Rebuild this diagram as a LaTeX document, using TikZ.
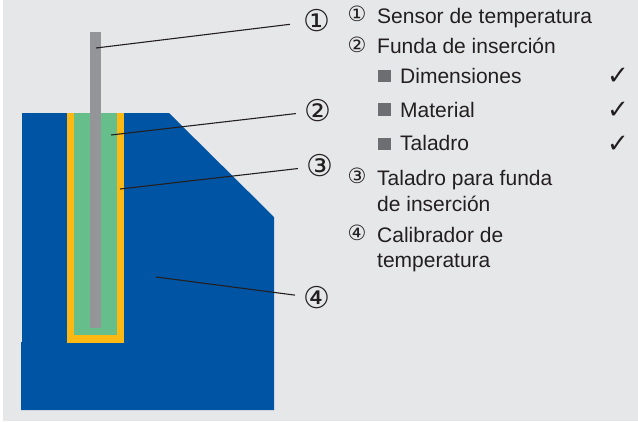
\documentclass[tikz,border=0pt]{standalone}
\usepackage{fontspec}
\setmainfont{Liberation Sans}
\newfontfamily\symfont{DejaVu Sans}
\definecolor{bgc}{HTML}{E6E7E9}
\definecolor{bluec}{HTML}{0054A4}
\definecolor{yellowc}{HTML}{FDB913}
\definecolor{greenc}{HTML}{66BF8B}
\definecolor{grayc}{HTML}{939598}
\definecolor{squarec}{HTML}{6D6E71}
\definecolor{inkc}{HTML}{231F20}
\tikzset{
  px/.style={x=1pt,y=-1pt},
  callout/.style={circle,minimum size=44pt,inner sep=0pt,font=\symfont\fontsize{30}{30}\selectfont,text=inkc},
  leader/.style={draw=inkc,line width=1.1pt},
  smallnum/.style={anchor=center,inner sep=0pt,font=\symfont\fontsize{21}{21}\selectfont,text=inkc},
  item/.style={anchor=base west,inner sep=0pt,font=\fontsize{21}{22}\selectfont,text=inkc},
  bullet/.style={fill=squarec,draw=none,minimum size=12.5pt,inner sep=0pt},
  tick/.style={anchor=center,inner sep=0pt,font=\symfont\fontsize{26}{26}\selectfont,text=inkc},
}
\begin{document}
\begin{tikzpicture}[px]
\useasboundingbox (0,0) rectangle (638,421);
\fill[white] (0,0) rectangle (638,421);
\fill[bgc] (3,0) rectangle (638,421);
\fill[bluec] (22,113) -- (169,113) -- (274,217) -- (274,410) -- (21,410) -- (21,342) -- (22,342) -- cycle;
\fill[yellowc] (67,113) rectangle (124,343);
\fill[greenc] (74,113) rectangle (117,335);
\fill[grayc] (90,32) rectangle (101,328);
\coordinate (p1) at (96,48);
\coordinate (p2) at (111,135);
\coordinate (p3) at (120,189);
\coordinate (p4) at (156,277);
\node[callout] (n1) at (317,21) {①};
\node[callout] (n2) at (318,111) {②};
\node[callout] (n3) at (320,166) {③};
\node[callout] (n4) at (317,298) {④};
\draw[leader,shorten >=5pt] (p1) -- (n1);
\draw[leader] (p2) -- (n2);
\draw[leader] (p3) -- (n3);
\draw[leader] (p4) -- (n4);
\node[smallnum] (s1) at (357,14) {①};
\node[smallnum] (s2) at (357,45) {②};
\node[smallnum] (s3) at (357,176) {③};
\node[smallnum] (s4) at (357,233) {④};
\node[item] (t1) at (377,23) {Sensor de temperatura};
\node[item] (t2) at (377,53) {Funda de inserción};
\node[item] (t3) at (400,83) {Dimensiones};
\node[item] (t4) at (400,117) {Material};
\node[item] (t5) at (400,150) {Taladro};
\node[item] (t6) at (377,185) {Taladro para funda};
\node[item] (t7) at (377,211) {de inserción};
\node[item] (t8) at (377,242) {Calibrador de};
\node[item] (t9) at (377,267) {temperatura};
\node[bullet] (b1) at (384.5,76) {};
\node[bullet] (b2) at (384.5,109.5) {};
\node[bullet] (b3) at (384.5,144) {};
\node[tick] (c1) at (618,76) {✓};
\node[tick] (c2) at (618,110) {✓};
\node[tick] (c3) at (618,144) {✓};
\end{tikzpicture}
\end{document}
